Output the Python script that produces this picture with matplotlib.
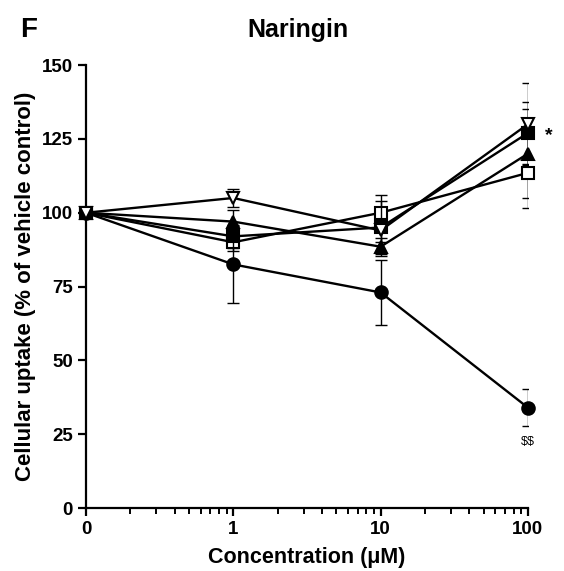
import matplotlib
matplotlib.use("Agg")
import matplotlib.pyplot as plt
from matplotlib.ticker import LogLocator, FixedLocator, NullFormatter

plt.rcParams['font.family'] = ['Liberation Sans', 'DejaVu Sans']

# x: 0 is plotted at 0.1 on the log axis
conc_labels = ["0", "1", "10", "100"]
conc_pos = [0.1, 1, 10, 100]

circle_mean = [100, 82.5, 73, 34]
circle_err = [0, 13, 11, 6.3]
open_tri_mean = [100, 105, 94, 130]
open_tri_err = [0, 3, 4, 14]
filled_sq_mean = [100, 92, 95, 127]
filled_sq_err = [0, 4, 9, 10.6]
open_sq_mean = [100, 90, 100, 113.5]
open_sq_err = [0, 3, 6, 12]
filled_tri_mean = [100, 97, 88.5, 120]
filled_tri_err = [0, 4, 3, 15]

yticks = [0, 25, 50, 75, 100, 125, 150]

fig = plt.figure(figsize=(5.64, 5.71), dpi=100)
ax = fig.add_axes([0.1525, 0.1103, 0.7835, 0.7757])

series = [
    (circle_mean, circle_err, 'o', 'black'),
    (filled_tri_mean, filled_tri_err, '^', 'black'),
    (open_sq_mean, open_sq_err, 's', 'white'),
    (filled_sq_mean, filled_sq_err, 's', 'black'),
    (open_tri_mean, open_tri_err, 'v', 'white'),
]
for i, (m, e, mk, fc) in enumerate(series):
    ax.errorbar(conc_pos, m, yerr=e, fmt='none', ecolor='black',
                elinewidth=1.0, capsize=4.5, capthick=1.0, zorder=2 + i)
    ax.plot(conc_pos, m, color='black', lw=1.7, marker=mk, markersize=9,
            markerfacecolor=fc, markeredgecolor='black', markeredgewidth=1.5,
            zorder=3 + i, clip_on=False)

ax.set_xscale('log')
ax.set_xlim(0.1, 100)
ax.set_ylim(0, 150)
ax.xaxis.set_major_locator(FixedLocator(conc_pos))
ax.set_xticklabels(conc_labels)
ax.xaxis.set_minor_locator(LogLocator(base=10, subs=[2, 3, 4, 5, 6, 7, 8, 9]))
ax.xaxis.set_minor_formatter(NullFormatter())
ax.set_yticks(yticks)

for s in ['top', 'right']:
    ax.spines[s].set_visible(False)
for s in ['left', 'bottom']:
    ax.spines[s].set_linewidth(1.6)
ax.tick_params(axis='both', which='major', length=6, width=1.6,
               labelsize=13.5, pad=3.5)
ax.tick_params(axis='x', which='minor', length=4, width=1.4)
for lab in ax.get_xticklabels() + ax.get_yticklabels():
    lab.set_fontweight('bold')

ax.set_xlabel("Concentration (\u03bcM)", fontsize=15.5, fontweight='bold', labelpad=6)
ax.set_ylabel("Cellular uptake (% of vehicle control)", fontsize=16,
              fontweight='bold', labelpad=4)
ax.set_title("Naringin", fontsize=18, fontweight='bold', pad=20, x=0.48)
fig.text(0.035, 0.97, "F", fontsize=20, fontweight='bold', va='top', ha='left')

ax.annotate("*", xy=(100, 127), xytext=(12, -2), textcoords='offset points',
            fontsize=14, fontweight='bold', va='center', ha='left',
            annotation_clip=False)
ax.annotate(r"\$\$", xy=(100, 34), xytext=(0, -25), textcoords='offset points',
            fontsize=9, va='center', ha='center', annotation_clip=False)

fig.savefig("out.png", dpi=100)
